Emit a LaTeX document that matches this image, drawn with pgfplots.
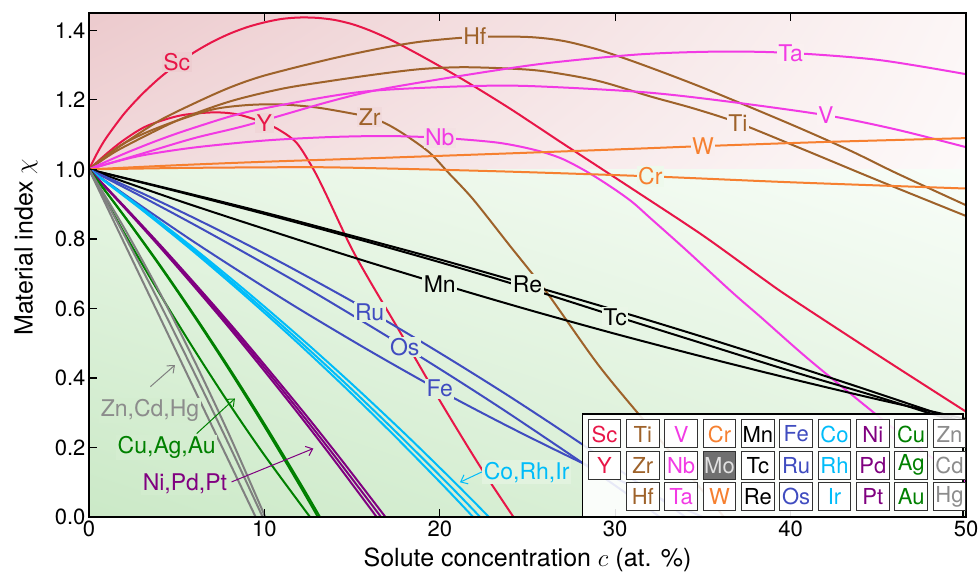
\documentclass[border=0pt]{standalone}
\usepackage{pgfplots}
\pgfplotsset{compat=1.18}
\usepackage{fontspec}
\setmainfont{TeX Gyre Heros}
\usetikzlibrary{arrows.meta,shadings}

\definecolor{cSc}{RGB}{232,22,72}
\definecolor{cTi}{RGB}{158,98,42}
\definecolor{cV}{RGB}{242,58,228}
\definecolor{cCr}{RGB}{246,128,48}
\definecolor{cMn}{RGB}{0,0,0}
\definecolor{cFe}{RGB}{64,76,192}
\definecolor{cCo}{RGB}{0,188,250}
\definecolor{cNi}{RGB}{128,0,128}
\definecolor{cCu}{RGB}{0,128,0}
\definecolor{cZn}{RGB}{128,128,128}
\definecolor{cZnT}{RGB}{140,140,140}
\definecolor{bgRUL}{RGB}{236,202,205}
\definecolor{bgRLL}{RGB}{241,217,219}
\definecolor{bgRUR}{RGB}{252,246,246}
\definecolor{bgRLR}{RGB}{253,249,249}
\definecolor{bgGLL}{RGB}{203,233,199}
\definecolor{bgGUL}{RGB}{230,245,227}
\definecolor{bgGLR}{RGB}{226,243,223}
\definecolor{bgGUR}{RGB}{248,253,248}

\begin{document}
\begin{tikzpicture}[x=1pt,y=1pt]
\path[use as bounding box] (0,0) rectangle (979,577);
\begin{axis}[
  at={(89pt,60pt)}, anchor=south west,
  scale only axis, width=877pt, height=504pt,
  xmin=0, xmax=50, ymin=0, ymax=1.45,
  xtick={0,10,20,30,40,50},
  ytick={0,0.2,0.4,0.6,0.8,1.0,1.2,1.4},
  tick align=inside, xtick pos=both, ytick pos=left,
  major tick length=8pt,
  every tick/.style={line width=1.2pt, black},
  axis line style={line width=2pt},
  axis on top,
  /pgf/number format/assume math mode=true,
  yticklabel style={/pgf/number format/fixed, /pgf/number format/fixed zerofill, /pgf/number format/precision=1},
  ticklabel style={font=\fontsize{22}{26}\selectfont},
  label style={font=\fontsize{25}{30}\selectfont},
  xlabel={Solute concentration $c$ (at. \%)},
  ylabel={Material index $\chi$},
  x label style={at={(axis description cs:0.5,-0.085)}, anchor=center},
  y label style={at={(axis description cs:-0.072,0.535)}, anchor=center},
  every axis plot/.append style={line width=2pt, smooth},
  clip=true,
]
\shade[upper left=bgRUL, upper right=bgRUR, lower left=bgRLL, lower right=bgRLR] (axis cs:0,1) rectangle (axis cs:50,1.45);
\shade[upper left=bgGUL, upper right=bgGUR, lower left=bgGLL, lower right=bgGLR] (axis cs:0,0) rectangle (axis cs:50,1);

% Group 3: Sc, Y
\addplot[cSc] coordinates {(0,1) (0.5,1.05) (1,1.092) (2,1.16) (3,1.215) (4,1.262) (5,1.302) (6,1.337) (7,1.366) (8,1.39) (9,1.409) (10,1.423) (11,1.433) (12,1.437) (13,1.436) (14,1.43) (15,1.418) (16,1.4) (17.2,1.373) (19,1.325) (21.3,1.259) (24,1.175) (27,1.075) (31.4,0.93) (35,0.81) (38.3,0.69) (40,0.63) (45,0.465) (50,0.303)};
\addplot[cSc] coordinates {(0,1) (1,1.045) (2,1.085) (3.3,1.125) (5.2,1.155) (7.1,1.164) (8.5,1.158) (10,1.134) (10.9,1.112) (11.86,1.075) (12.8,1.0) (13.5,0.93) (14.9,0.78) (16,0.68) (17.7,0.535) (20,0.335) (22.3,0.145) (24.2,0)};
% Group 4: Ti, Zr, Hf
\addplot[cTi] coordinates {(0,1) (1,1.035) (2,1.065) (5,1.14) (8,1.195) (11,1.232) (13.7,1.254) (16.6,1.275) (19,1.289) (21.3,1.294) (24,1.29) (26,1.282) (29,1.255) (32,1.21) (34.5,1.175) (37,1.134) (40.7,1.058) (45,0.968) (50,0.866)};
\addplot[cTi] coordinates {(0,1) (1,1.04) (2,1.075) (3.3,1.107) (5,1.14) (7.1,1.173) (9,1.185) (10.9,1.187) (13,1.178) (15.3,1.158) (16,1.151) (17,1.13) (18,1.1) (19.4,1.049) (20.5,0.99) (21.9,0.914) (24,0.78) (26.1,0.646) (29,0.44) (31.6,0.28) (34,0.135) (36.2,0)};
\addplot[cTi] coordinates {(0,1) (1,1.04) (2,1.075) (4,1.14) (6,1.19) (8,1.235) (10,1.27) (13.7,1.317) (16.6,1.348) (19,1.368) (22,1.381) (25,1.381) (27,1.37) (29,1.345) (31.4,1.304) (35,1.235) (40,1.13) (43.4,1.054) (46,0.99) (50,0.897)};
% Group 5: V, Nb, Ta
\addplot[cV] coordinates {(0,1) (2,1.045) (4,1.085) (6,1.12) (9,1.165) (13.7,1.21) (16.6,1.228) (21.3,1.239) (25,1.24) (31.4,1.223) (36,1.198) (42,1.156) (46,1.115) (50,1.064)};
\addplot[cV] coordinates {(0,1) (1,1.015) (3,1.04) (6,1.063) (10,1.083) (13.7,1.093) (17,1.096) (20,1.091) (23.3,1.077) (25.5,1.055) (27,1.03) (28.5,0.99) (29.9,0.945) (31,0.905) (32,0.86) (34,0.77) (36.7,0.645) (38.3,0.575) (41,0.455) (44.7,0.302) (47,0.21) (50,0.1)};
\addplot[cV] coordinates {(0,1) (3,1.045) (6,1.09) (9,1.127) (13.7,1.195) (16.6,1.23) (21.3,1.27) (26,1.305) (31.4,1.331) (36,1.339) (40,1.335) (45,1.315) (50,1.274)};
% Group 6: Cr, W
\addplot[cCr] coordinates {(0,1) (5,1.004) (10,1.006) (13.7,1.006) (20,0.999) (25,0.992) (32,0.98) (40,0.963) (50,0.945)};
\addplot[cCr] coordinates {(0,1) (5,1.012) (10,1.022) (16.6,1.033) (25,1.048) (31.4,1.06) (35,1.067) (42,1.079) (50,1.09)};
% Group 7: Mn, Re, Tc
\addplot[cMn] coordinates {(0,1) (5,0.912) (10,0.829) (15,0.748) (20,0.671) (25,0.597) (30,0.527) (35,0.461) (40,0.398) (45,0.338) (50,0.282)};
\addplot[cMn] coordinates {(0,1) (5,0.939) (10,0.876) (15,0.809) (20,0.741) (25,0.669) (30,0.595) (35,0.518) (40,0.438) (45,0.355) (50,0.27)};
\addplot[cMn] coordinates {(0,1) (5,0.937) (10,0.872) (15,0.804) (20,0.733) (25,0.658) (30,0.578) (35,0.499) (40,0.42) (45,0.345) (50,0.265)};
% Group 8: Fe, Ru, Os
\addplot[cFe] coordinates {(0,1) (3,0.932) (6,0.860) (9,0.784) (12,0.704) (16,0.592) (20,0.472) (24,0.346) (28.18,0.207) (32,0.073) (34,0)};
\addplot[cFe] coordinates {(0,1) (3,0.922) (6,0.841) (9,0.757) (12,0.671) (15,0.581) (18,0.489) (21,0.394) (24,0.296) (28.18,0.154) (31,0.055) (32.55,0)};
\addplot[cFe] coordinates {(0,1) (3,0.894) (6,0.791) (9,0.693) (12,0.598) (16,0.478) (20,0.364) (24,0.258) (28.18,0.154) (32,0.066) (35,0)};
% Group 9: Co, Rh, Ir
\addplot[cCo] coordinates {(0,1) (3,0.889) (6,0.772) (9,0.648) (12,0.518) (15,0.382) (18,0.24) (21,0.092) (22.8,0)};
\addplot[cCo] coordinates {(0,1) (2.93,0.889) (5.87,0.772) (8.8,0.648) (11.74,0.518) (14.67,0.382) (17.6,0.24) (20.54,0.092) (22.3,0)};
\addplot[cCo] coordinates {(0,1) (2.88,0.889) (5.76,0.772) (8.64,0.648) (11.53,0.518) (14.41,0.382) (17.29,0.24) (20.17,0.092) (21.9,0)};
% Group 10: Ni, Pd, Pt
\addplot[cNi] coordinates {(0,1) (2,0.891) (4,0.779) (6,0.663) (8,0.544) (10,0.420) (12,0.293) (14,0.162) (16.4,0)};
\addplot[cNi] coordinates {(0,1) (2.03,0.891) (4.06,0.779) (6.09,0.663) (8.12,0.544) (10.15,0.420) (12.18,0.293) (14.21,0.162) (16.65,0)};
\addplot[cNi] coordinates {(0,1) (2.06,0.891) (4.12,0.779) (6.18,0.663) (8.24,0.544) (10.3,0.420) (12.37,0.293) (14.43,0.162) (16.9,0)};
% Group 11: Cu, Ag, Au
\addplot[cCu] coordinates {(0,1) (2,0.818) (4,0.645) (6,0.481) (8,0.325) (10,0.178) (12.6,0)};
\addplot[cCu] coordinates {(0,1) (2,0.867) (4,0.728) (6,0.581) (8,0.428) (10,0.268) (12,0.101) (13.17,0)};
\addplot[cCu] coordinates {(0,1) (1.98,0.867) (3.96,0.728) (5.95,0.581) (7.93,0.428) (9.91,0.268) (11.89,0.101) (13.05,0)};
% Group 12: Zn, Cd, Hg
\addplot[cZn] coordinates {(0,1) (2,0.789) (4,0.579) (6,0.368) (8,0.158) (9.5,0)};
\addplot[cZn] coordinates {(0,1) (2,0.812) (4,0.618) (6,0.415) (8,0.206) (9.9,0)};
\addplot[cZn] coordinates {(0,1) (2,0.832) (4,0.649) (6,0.450) (8,0.236) (10.05,0)};

% curve labels
\tikzset{lab/.style={font=\fontsize{23}{26}\selectfont, inner sep=1.5pt}}
\node[lab, text=cSc, fill={rgb,255:red,237;green,205;blue,208}] at (axis cs:5,1.309) {Sc};
\node[lab, text=cSc, fill={rgb,255:red,240;green,214;blue,216}] at (axis cs:10,1.134) {Y};
\node[lab, text=cTi, fill={rgb,255:red,241;green,218;blue,220}] at (axis cs:16,1.151) {Zr};
\node[lab, text=cTi, fill={rgb,255:red,242;green,222;blue,224}] at (axis cs:22,1.383) {Hf};
\node[lab, text=cV, fill={rgb,255:red,243;green,225;blue,227}] at (axis cs:20,1.091) {Nb};
\node[lab, text=cV, fill={rgb,255:red,250;green,240;blue,240}] at (axis cs:40,1.333) {Ta};
\node[lab, text=cV, fill={rgb,255:red,251;green,243;blue,243}] at (axis cs:42,1.156) {V};
\node[lab, text=cTi, fill={rgb,255:red,249;green,239;blue,239}] at (axis cs:37,1.134) {Ti};
\node[lab, text=cCr, fill={rgb,255:red,249;green,238;blue,238}] at (axis cs:35,1.067) {W};
\node[lab, text=cCr, fill={rgb,255:red,238;green,249;blue,236}] at (axis cs:32,0.980) {Cr};
\node[lab, text=cMn, fill={rgb,255:red,230;green,245;blue,227}] at (axis cs:20,0.671) {Mn};
\node[lab, text=cMn, fill={rgb,255:red,233;green,246;blue,230}] at (axis cs:25,0.669) {Re};
\node[lab, text=cMn, fill={rgb,255:red,234;green,246;blue,231}] at (axis cs:30,0.575) {Tc};
\node[lab, text=cFe, fill={rgb,255:red,226;green,243;blue,223}] at (axis cs:16,0.590) {Ru};
\node[lab, text=cFe, fill={rgb,255:red,225;green,242;blue,222}] at (axis cs:18,0.489) {Os};
\node[lab, text=cFe, fill={rgb,255:red,223;green,241;blue,220}] at (axis cs:20,0.369) {Fe};

% group labels with arrows
\tikzset{arr/.style={line width=1pt, -{Straight Barb[length=6pt,width=10pt]}}}
\draw[arr, cZn] (axis cs:3.5,0.375) -- (axis cs:4.9,0.437);
\draw[arr, cCu] (axis cs:6.14,0.24) -- (axis cs:8.32,0.341);
\draw[arr, cNi] (axis cs:8.13,0.101) -- (axis cs:12.79,0.197);
\draw[arr, cCo] (axis cs:22.58,0.134) -- (axis cs:21.15,0.1);
\node[lab, text=cZnT, fill={rgb,255:red,212;green,237;blue,208}] at (axis cs:3.48,0.307) {Zn,Cd,Hg};
\node[lab, text=cCu, fill={rgb,255:red,212;green,237;blue,208}] at (axis cs:4.43,0.201) {Cu,Ag,Au};
\node[lab, text=cNi, fill={rgb,255:red,210;green,236;blue,206}] at (axis cs:5.47,0.096) {Ni,Pd,Pt};
\node[lab, text=cCo, fill={rgb,255:red,226;green,243;blue,223}] at (axis cs:24.95,0.129) {Co,Rh,Ir};
\end{axis}

% periodic-table legend
\draw[line width=1.3pt, fill=white, fill opacity=0.88] (582.7,60.3) rectangle (963,163);
\tikzset{cell/.style={draw={rgb,255:red,50;green,50;blue,50}, line width=1pt, fill=white}}
\foreach \c/\r/\el/\clr in {0/0/Sc/cSc, 1/0/Ti/cTi, 2/0/V/cV, 3/0/Cr/cCr, 4/0/Mn/cMn, 5/0/Fe/cFe, 6/0/Co/cCo, 7/0/Ni/cNi, 8/0/Cu/cCu, 9/0/Zn/cZnT,
  0/1/Y/cSc, 1/1/Zr/cTi, 2/1/Nb/cV, 4/1/Tc/cMn, 5/1/Ru/cFe, 6/1/Rh/cCo, 7/1/Pd/cNi, 8/1/Ag/cCu, 9/1/Cd/cZnT,
  1/2/Hf/cTi, 2/2/Ta/cV, 3/2/W/cCr, 4/2/Re/cMn, 5/2/Os/cFe, 6/2/Ir/cCo, 7/2/Pt/cNi, 8/2/Au/cCu, 9/2/Hg/cZnT} {
  \draw[cell] ({588.3+38.33*\c},{157-31.35*\r}) rectangle ++(32.4,-28);
  \node[text=\clr, font=\fontsize{22}{26}\selectfont, inner sep=0pt] at ({604.5+38.33*\c},{143-31.35*\r}) {\el};
}
\draw[cell, fill={rgb,255:red,112;green,112;blue,112}] ({588.3+38.33*3},{157-31.35}) rectangle ++(32.4,-28);
\node[text={rgb,255:red,225;green,225;blue,225}, font=\fontsize{22}{26}\selectfont, inner sep=0pt] at ({604.5+38.33*3},{143-31.35}) {Mo};
\end{tikzpicture}
\end{document}
